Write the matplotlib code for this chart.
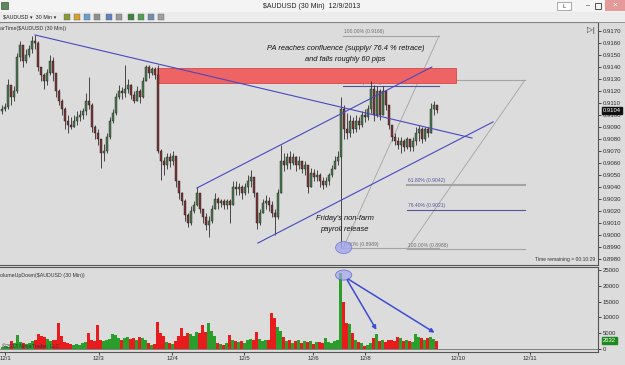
"""
plot.py - NinjaTrader-style $AUDUSD 30-min chart (12/9/2013) with trend lines,
supply box, two fib retracements and a VolumeUpDown panel underneath.
Writes out.png (625x365).
"""
import numpy as np
import matplotlib
matplotlib.use("Agg")
import matplotlib.pyplot as plt
from matplotlib.patches import Rectangle, Ellipse

# ---- price bars (pips, 0.9105 -> 9105), one bar per slot -------------------
CLOSE = [9105, 9107, 9125, 9115, 9120, 9148, 9158, 9145, 9150, 9155,
         9162, 9160, 9140, 9133, 9128, 9135, 9145, 9135, 9120, 9112,
         9105, 9095, 9092, 9090, 9095, 9098, 9100, 9103, 9112, 9108,
         9090, 9085, 9080, 9068, 9070, 9082, 9095, 9102, 9115, 9120,
         9118, 9122, 9125, 9117, 9112, 9120, 9115, 9128, 9140, 9135,
         9138, 9133, 9070, 9062, 9058, 9065, 9062, 9066, 9045, 9035,
         9028, 9017, 9010, 9020, 9025, 9035, 9022, 9015, 9008, 9012,
         9022, 9030, 9027, 9028, 9025, 9028, 9025, 9040, 9038, 9040,
         9035, 9040, 9045, 9048, 9035, 9010, 9018, 9027, 9028, 9025,
         9018, 9015, 9035, 9062, 9058, 9065, 9060, 9065, 9058, 9062,
         9055, 9058, 9040, 9052, 9048, 9050, 9045, 9042, 9045, 9050,
         9055, 9062, 9065, 9105, 9088, 9085, 9095, 9088, 9095, 9092,
         9100, 9098, 9105, 9122, 9100, 9120, 9100, 9120, 9108, 9092,
         9082, 9078, 9075, 9078, 9073, 9080, 9073, 9078, 9085, 9088,
         9080, 9088, 9085, 9105, 9108, 9104]
HIGH = [9108, 9110, 9130, 9124, 9124, 9152, 9162, 9158, 9155, 9158,
        9166, 9167, 9162, 9140, 9135, 9138, 9150, 9148, 9132, 9122,
        9113, 9107, 9100, 9098, 9100, 9103, 9104, 9106, 9118, 9132,
        9110, 9092, 9088, 9078, 9076, 9085, 9098, 9105, 9118, 9125,
        9123, 9142, 9130, 9126, 9120, 9124, 9122, 9132, 9142, 9142,
        9140, 9140, 9142, 9072, 9065, 9068, 9068, 9070, 9065, 9043,
        9036, 9030, 9018, 9024, 9028, 9040, 9035, 9022, 9018, 9016,
        9025, 9035, 9032, 9030, 9030, 9030, 9030, 9045, 9045, 9043,
        9042, 9043, 9050, 9054, 9048, 9036, 9022, 9030, 9033, 9032,
        9028, 9022, 9038, 9075, 9068, 9068, 9070, 9068, 9066, 9066,
        9062, 9062, 9058, 9056, 9055, 9054, 9052, 9048, 9048, 9052,
        9058, 9066, 9070, 9115, 9108, 9102, 9100, 9098, 9100, 9098,
        9103, 9105, 9108, 9128, 9125, 9124, 9122, 9124, 9120, 9108,
        9092, 9085, 9082, 9082, 9080, 9082, 9080, 9082, 9090, 9092,
        9090, 9090, 9090, 9110, 9112, 9108]
LOW = [9101, 9103, 9105, 9108, 9112, 9118, 9145, 9140, 9143, 9148,
       9152, 9155, 9137, 9128, 9122, 9125, 9133, 9128, 9115, 9108,
       9100, 9088, 9085, 9088, 9090, 9092, 9095, 9097, 9100, 9105,
       9086, 9080, 9075, 9056, 9062, 9068, 9080, 9093, 9100, 9113,
       9113, 9115, 9118, 9113, 9110, 9112, 9110, 9114, 9128, 9131,
       9133, 9130, 9068, 9046, 9050, 9055, 9057, 9058, 9040, 9030,
       9025, 9012, 9007, 9008, 9018, 9024, 9018, 9010, 9004, 8998,
       9010, 9022, 9022, 9023, 9022, 9022, 9010, 9025, 9033, 9033,
       9030, 9033, 9035, 9040, 9032, 9005, 9008, 9018, 9022, 9020,
       9015, 9000, 9013, 9035, 9053, 9055, 9055, 9058, 9053, 9055,
       9052, 9050, 9035, 9040, 9045, 9045, 9040, 9038, 9040, 9042,
       9048, 9055, 9058, 8989, 9080, 9080, 9082, 9085, 9086, 9088,
       9090, 9094, 9096, 9102, 9095, 9098, 9096, 9100, 9104, 9088,
       9078, 9075, 9072, 9068, 9070, 9072, 9070, 9070, 9075, 9078,
       9077, 9078, 9082, 9085, 9100, 9102]
FIRST_OPEN = 9103

VOLUME = [600, 800, 700, 2400, 2000, 4500, 2200, 1800, 1500, 2000,
          2600, 2900, 4800, 4200, 3800, 3200, 2500, 2800, 3000, 8200,
          4000, 2200, 1800, 1500, 1200, 1600, 1400, 1900, 2300, 5000,
          2800, 2400, 7700, 2800, 2500, 2900, 3300, 4700, 4500, 3600,
          2800, 3500, 3800, 3200, 3600, 3000, 3900, 3400, 3000, 1800,
          1400, 1700, 8700, 5200, 4200, 2200, 1800, 1600, 2400, 4000,
          6600, 4200, 5000, 4600, 4000, 5500, 5200, 7700, 5500, 8200,
          5800, 4200, 1800, 1500, 1300, 1900, 4500, 2800, 2400, 2200,
          2600, 2000, 2900, 3100, 2700, 5300, 3200, 2600, 3000, 2800,
          11500, 9800, 7000, 5800, 3800, 2600, 3000, 2000, 2500, 2800,
          1800, 2600, 2200, 2400, 1700, 2100, 2300, 2000, 3500, 2200,
          2000, 2600, 2900, 24000, 15000, 8200, 7800, 5000, 3000, 2200,
          1800, 900, 1300, 2000, 3500, 4800, 2500, 2800, 2200, 2900,
          3000, 2400, 3800, 3600, 2600, 2900, 2400, 2200, 4800, 3900,
          3500, 3000, 3400, 3800, 3300, 2632]

DATE_LABELS = ["12/1", "12/3", "12/4", "12/5", "12/6", "12/8", "12/10", "12/11"]
DATE_SLOTS = [1, 32.3, 56.7, 80.7, 103.7, 121, 152, 176]

# ---- drawing objects (slot, price) -----------------------------------------
DOWNTREND = [(11, 0.91667), (156.7, 0.90808)]
CHANNEL_UP = [(65, 0.90392), (143.3, 0.91400)]
CHANNEL_LO = [(85.3, 0.89933), (163.7, 0.90942)]
SUPPLY_BOX = (51.7, 151.3, 0.91267, 0.91392)          # x0, x1, y0, y1

FIB1_X = (113.7, 145.7)
FIB1_LEVELS = [("100.00%", 0.9166), ("76.40%", 0.9124), ("0.00%", 0.8989)]
FIB2_X = (135.0, 174.3)
FIB2_LEVELS = [("0.00%", 0.9129), ("61.80%", 0.9042), ("76.40%", 0.9021),
               ("100.00%", 0.8988)]

PRICE_TICKS = [0.8980 + 0.0010 * k for k in range(20)]
VOL_TICKS = [0, 5000, 10000, 15000, 20000, 25000]

BG = "#dcdcdc"
TREND = "#4848c0"
FIBGRAY = "#a4a4a4"
FIBBLUE = "#55559a"
W, H = 625, 365
XLIM = (-0.67, 198.7)


def fig_rect(x, y, w, h):
    """pixel box (top-left origin) -> figure fraction rect"""
    return [x / W, 1 - (y + h) / H, w / W, h / H]


def plot_price(ax):
    close = np.array(CLOSE) / 10000.0
    high = np.array(HIGH) / 10000.0
    low = np.array(LOW) / 10000.0
    opn = np.concatenate([[FIRST_OPEN / 10000.0], close[:-1]])
    xs = np.arange(len(close))
    up = close >= opn

    ax.vlines(xs, low, high, color="#1e1e1e", lw=0.55, zorder=3)
    body_lo = np.minimum(opn, close)
    body_h = np.maximum(np.abs(close - opn), 0.00006)
    ax.bar(xs, body_h, bottom=body_lo, width=0.5,
           color=np.where(up, "#4a7a4e", "#7e3434"),
           edgecolor="#1e1e1e", linewidth=0.3, zorder=4)

    x0, x1, y0, y1 = SUPPLY_BOX
    ax.add_patch(Rectangle((x0, y0), x1 - x0, y1 - y0, facecolor="#ee6464",
                           edgecolor="#d84848", lw=0.6, zorder=2))

    # fib retracements
    for (xa, xb), levels in ((FIB1_X, FIB1_LEVELS), (FIB2_X, FIB2_LEVELS)):
        top = max(v for _, v in levels)
        bot = min(v for _, v in levels)
        ax.plot([xa, xb], [bot, top], color=FIBGRAY, lw=0.6, zorder=1.5)
        for name, v in levels:
            is_edge = name in ("0.00%", "100.00%")
            lw = 1.5 if name == "61.80%" else 0.8
            col = FIBGRAY if (is_edge or name == "61.80%") else FIBBLUE
            ax.plot([xa, xb], [v, v], color=col, lw=lw, zorder=1.5)
            ax.text(xa + 0.3, v + 0.00014, "%s (%.4f)" % (name, v),
                    fontsize=3.6, color="#707070" if is_edge else FIBBLUE,
                    va="bottom", ha="left", zorder=1.6)

    for line in (DOWNTREND, CHANNEL_UP, CHANNEL_LO):
        (xa, ya), (xb, yb) = line
        ax.plot([xa, xb], [ya, yb], color=TREND, lw=0.8, zorder=5)

    ax.add_patch(Ellipse((113.9, 0.89895), 5.4, 0.00100, facecolor="#a4a8ec",
                         edgecolor="#6a70d8", lw=0.6, alpha=0.8, zorder=6))

    ax.text(114.5, 0.91555, "PA reaches confluence (supply/ 76.4 % retrace)",
            ha="center", va="center", fontsize=5.4, style="italic", color="#111111")
    ax.text(114.5, 0.91462, "and falls roughly 60 pips",
            ha="center", va="center", fontsize=5.4, style="italic", color="#111111")
    ax.text(114.3, 0.90140, "Friday's non-farm",
            ha="center", va="center", fontsize=5.4, style="italic", color="#111111")
    ax.text(114.3, 0.90048, "payroll release",
            ha="center", va="center", fontsize=5.4, style="italic", color="#111111")

    ax.set_xlim(*XLIM)
    ax.set_ylim(0.89750, 0.91775)
    ax.yaxis.tick_right()
    ax.set_yticks(PRICE_TICKS)
    ax.set_yticklabels(["%.4f" % t for t in PRICE_TICKS])
    ax.tick_params(axis="y", length=2.5, width=0.6, pad=1, labelsize=4.3,
                   colors="#2a2a2a")
    ax.set_xticks([])
    ax.set_facecolor(BG)
    ax.spines["left"].set_visible(False)
    for s in ("top", "bottom", "right"):
        ax.spines[s].set_color("#555555")
        ax.spines[s].set_linewidth(0.8)

    # last price marker
    ax.text(1.008, (close[-1] - 0.89750) / (0.91775 - 0.89750), "%.4f" % close[-1],
            transform=ax.transAxes, fontsize=4.2, color="white", va="center",
            ha="left", bbox=dict(boxstyle="square,pad=0.15", fc="#111111", ec="#111111"))
    ax.text(0.995, 0.012, "Time remaining = 00:10:29", transform=ax.transAxes,
            fontsize=3.6, color="#333333", ha="right", va="bottom")
    ax.text(0.0, 0.985, "arTime($AUDUSD (30 Min))", transform=ax.transAxes,
            fontsize=3.8, color="#333333", ha="left", va="top")


def plot_volume(ax):
    close = np.array(CLOSE)
    opn = np.concatenate([[FIRST_OPEN], close[:-1]])
    vol = np.array(VOLUME)
    xs = np.arange(len(vol))
    cols = np.where(close >= opn, "#2a9d2a", "#e81c1c")
    ax.bar(xs, vol, width=1.0, color=cols, linewidth=0, zorder=3)
    ax.axhline(0, color="#707070", lw=0.6, zorder=2)

    ax.add_patch(Ellipse((113.9, 23400), 5.4, 3200, facecolor="#a4a8ec",
                         edgecolor="#4a50d0", lw=0.6, alpha=0.7, zorder=6))
    for tgt in ((125.3, 5300), (145.0, 4700)):
        ax.annotate("", xy=tgt, xytext=(114.6, 22600),
                    arrowprops=dict(arrowstyle="-|>", color="#3c4cd0", lw=1.1,
                                    mutation_scale=6), zorder=7)

    ax.set_xlim(*XLIM)
    ax.set_ylim(-950, 25950)
    ax.yaxis.tick_right()
    ax.set_yticks(VOL_TICKS)
    ax.set_yticklabels([str(t) for t in VOL_TICKS])
    ax.tick_params(axis="y", length=2.5, width=0.6, pad=1, labelsize=4.3,
                   colors="#2a2a2a")
    ax.set_xticks(DATE_SLOTS)
    ax.set_xticklabels(DATE_LABELS)
    ax.tick_params(axis="x", length=2, width=0.6, pad=1, labelsize=4.3,
                   colors="#2a2a2a")
    ax.set_facecolor(BG)
    ax.spines["left"].set_visible(False)
    for s in ("top", "bottom", "right"):
        ax.spines[s].set_color("#555555")
        ax.spines[s].set_linewidth(0.8)

    ax.text(1.008, (vol[-1] + 950) / 26900, str(vol[-1]), transform=ax.transAxes,
            fontsize=4.2, color="white", va="center", ha="left",
            bbox=dict(boxstyle="square,pad=0.15", fc="#1e8a1e", ec="#1e8a1e"))
    ax.text(0.0, 0.93, "olumeUpDown($AUDUSD (30 Min))", transform=ax.transAxes,
            fontsize=3.8, color="#333333", ha="left", va="top")
    ax.text(0.003, 0.03, "\u00a92013 NinjaTrader, LLC", transform=ax.transAxes,
            fontsize=3.8, color="#333333", ha="left", va="bottom", zorder=8)


def draw_chrome(fig):
    ov = fig.add_axes([0, 0, 1, 1], zorder=10)
    ov.set_xlim(0, W)
    ov.set_ylim(H, 0)
    ov.axis("off")
    ov.patch.set_alpha(0)
    # title bar + toolbar
    ov.add_patch(Rectangle((0, 0), W, 12, fc="#f4f4f4", ec="none"))
    ov.add_patch(Rectangle((0, 12), W, 10, fc="#ececec", ec="none"))
    ov.plot([0, W], [22, 22], color="#8a8a8a", lw=0.6)
    ov.text(312, 6.5, "$AUDUSD (30 Min)  12/9/2013", fontsize=5, ha="center",
            va="center", color="#222222")
    ov.add_patch(Rectangle((1, 2), 7, 7, fc="#5a8a5a", ec="#333333", lw=0.4))
    ov.add_patch(Rectangle((557, 1.5), 14, 8.5, fc="white", ec="#888888", lw=0.5))
    ov.text(564, 6, "L", fontsize=4.2, ha="center", va="center", color="#333333")
    ov.text(588, 6, "\u2013", fontsize=5, ha="center", va="center", color="#333333")
    ov.add_patch(Rectangle((595, 2.5), 6, 6, fc="none", ec="#333333", lw=0.6))
    ov.add_patch(Rectangle((605, 0), 20, 11, fc="#e59a9a", ec="none"))
    ov.text(615, 5.5, "\u00d7", fontsize=6, ha="center", va="center", color="white")
    ov.text(3, 17.2, "$AUDUSD \u25be  30 Min \u25be", fontsize=3.9, ha="left",
            va="center", color="#222222")
    icon_x = [64, 74, 84, 94, 106, 116, 128, 138, 148, 158]
    icon_c = ["#8a9a3a", "#d8a030", "#6aa0d0", "#909090", "#6080c0", "#9a9a9a",
              "#408040", "#50a050", "#7090b0", "#a0a0a0"]
    for x, c in zip(icon_x, icon_c):
        ov.add_patch(Rectangle((x, 14), 6, 6, fc=c, ec="#666666", lw=0.3))
    # jump-to-end icon in price panel
    ov.text(591, 30, "\u25b7|", fontsize=5.5, ha="center", va="center",
            color="#333333")


def main():
    plt.rcParams.update({"font.family": ["Liberation Sans", "DejaVu Sans"],
                         "figure.facecolor": BG})
    fig = plt.figure(figsize=(W / 100, H / 100), dpi=100)
    ax_p = fig.add_axes(fig_rect(0, 22, 598, 243))
    ax_v = fig.add_axes(fig_rect(0, 267, 598, 85))
    plot_price(ax_p)
    plot_volume(ax_v)
    draw_chrome(fig)
    fig.savefig("out.png", dpi=100, facecolor=BG)
    plt.close(fig)


if __name__ == "__main__":
    main()
